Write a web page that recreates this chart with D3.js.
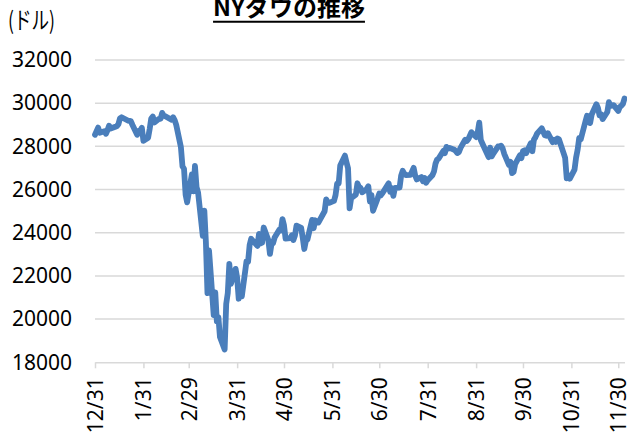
<!DOCTYPE html>
<html><head><meta charset="utf-8">
<script src="https://cdn.jsdelivr.net/npm/d3@7"></script>
<style>body{margin:0;background:#fff}svg{display:block}</style>
</head><body><svg id="c" width="627" height="432"></svg>
<script>
const dates = ["2019-12-31","2020-01-02","2020-01-03","2020-01-06","2020-01-07","2020-01-08","2020-01-09","2020-01-10","2020-01-13","2020-01-14","2020-01-15","2020-01-16","2020-01-17","2020-01-21","2020-01-22","2020-01-23","2020-01-24","2020-01-27","2020-01-28","2020-01-29","2020-01-30","2020-01-31",
"2020-02-03","2020-02-04","2020-02-05","2020-02-06","2020-02-07","2020-02-10","2020-02-11","2020-02-12","2020-02-13","2020-02-14","2020-02-18","2020-02-19","2020-02-20","2020-02-21","2020-02-24","2020-02-25","2020-02-26","2020-02-27","2020-02-28",
"2020-03-02","2020-03-03","2020-03-04","2020-03-05","2020-03-06","2020-03-09","2020-03-10","2020-03-11","2020-03-12","2020-03-13","2020-03-16","2020-03-17","2020-03-18","2020-03-19","2020-03-20","2020-03-23","2020-03-24","2020-03-25","2020-03-26","2020-03-27","2020-03-30","2020-03-31",
"2020-04-01","2020-04-02","2020-04-03","2020-04-06","2020-04-07","2020-04-08","2020-04-09","2020-04-13","2020-04-14","2020-04-15","2020-04-16","2020-04-17","2020-04-20","2020-04-21","2020-04-22","2020-04-23","2020-04-24","2020-04-27","2020-04-28","2020-04-29","2020-04-30",
"2020-05-01","2020-05-04","2020-05-05","2020-05-06","2020-05-07","2020-05-08","2020-05-11","2020-05-12","2020-05-13","2020-05-14","2020-05-15","2020-05-18","2020-05-19","2020-05-20","2020-05-21","2020-05-22","2020-05-26","2020-05-27","2020-05-28","2020-05-29",
"2020-06-01","2020-06-02","2020-06-03","2020-06-04","2020-06-05","2020-06-08","2020-06-09","2020-06-10","2020-06-11","2020-06-12","2020-06-15","2020-06-16","2020-06-17","2020-06-18","2020-06-19","2020-06-22","2020-06-23","2020-06-24","2020-06-25","2020-06-26","2020-06-29","2020-06-30",
"2020-07-01","2020-07-02","2020-07-06","2020-07-07","2020-07-08","2020-07-09","2020-07-10","2020-07-13","2020-07-14","2020-07-15","2020-07-16","2020-07-17","2020-07-20","2020-07-21","2020-07-22","2020-07-23","2020-07-24","2020-07-27","2020-07-28","2020-07-29","2020-07-30","2020-07-31",
"2020-08-03","2020-08-04","2020-08-05","2020-08-06","2020-08-07","2020-08-10","2020-08-11","2020-08-12","2020-08-13","2020-08-14","2020-08-17","2020-08-18","2020-08-19","2020-08-20","2020-08-21","2020-08-24","2020-08-25","2020-08-26","2020-08-27","2020-08-28","2020-08-31",
"2020-09-01","2020-09-02","2020-09-03","2020-09-04","2020-09-08","2020-09-09","2020-09-10","2020-09-11","2020-09-14","2020-09-15","2020-09-16","2020-09-17","2020-09-18","2020-09-21","2020-09-22","2020-09-23","2020-09-24","2020-09-25","2020-09-28","2020-09-29","2020-09-30",
"2020-10-01","2020-10-02","2020-10-05","2020-10-06","2020-10-07","2020-10-08","2020-10-09","2020-10-12","2020-10-13","2020-10-14","2020-10-15","2020-10-16","2020-10-19","2020-10-20","2020-10-21","2020-10-22","2020-10-23","2020-10-26","2020-10-27","2020-10-28","2020-10-29","2020-10-30",
"2020-11-02","2020-11-03","2020-11-04","2020-11-05","2020-11-06","2020-11-09","2020-11-10","2020-11-11","2020-11-12","2020-11-13","2020-11-16","2020-11-17","2020-11-18","2020-11-19","2020-11-20","2020-11-23","2020-11-24","2020-11-25","2020-11-27","2020-11-30",
"2020-12-01","2020-12-02","2020-12-03","2020-12-04"];
const closes = [28538,28868,28634,28703,28583,28745,28957,28824,28907,28940,29030,29297,29348,29196,29186,29160,28990,28535,28723,28734,28859,28256,
28399,28807,29290,29379,29103,29276,29276,29551,29424,29398,29232,29348,29219,28992,27961,27081,26957,25766,25409,
26703,25917,27091,26121,25865,23851,25018,23553,21200,23185,20189,21237,19899,20087,19174,18592,20704,21200,22552,21637,22327,21917,
20944,21413,21053,22680,22654,23434,23719,23390,23950,23504,23538,24242,23650,23019,23475,23516,23775,24134,24101,24634,24346,
23724,23750,23883,23664,23875,24331,24222,23765,23248,23625,23685,24597,24207,24576,24474,24465,24995,25548,25401,25383,
25475,25742,26270,26282,27111,27572,27272,26990,25128,25606,25763,26290,26120,26080,25871,26025,26156,25446,25746,25016,25596,25813,
25735,25827,26287,25890,26067,25706,26075,26086,26643,26870,26735,26672,26681,26840,27005,26652,26470,26584,26379,26540,26314,26428,
26664,26828,27201,27386,27433,27791,27687,27977,27897,27931,27845,27778,27692,27740,27930,28308,28249,28332,28492,28654,28430,
28646,29100,28292,28133,27501,27940,27535,27666,27993,27995,28032,27902,27657,27148,27288,26763,26815,27174,27584,27452,27782,
27817,27683,28149,27773,28303,28426,28587,28838,28680,28515,28494,28606,28195,28309,28211,28364,28336,27686,27463,26520,26660,26502,
26925,27481,27848,28391,28324,29158,29421,29398,29080,29480,29950,29784,29438,29483,29263,29591,30046,29873,29910,29639,
29824,29883,29970,30218];
const tickDates = ["2019-12-31","2020-01-31","2020-02-29","2020-03-31","2020-04-30","2020-05-31","2020-06-30","2020-07-31","2020-08-31","2020-09-30","2020-10-31","2020-11-30"];
const tickLabels = ["12/31","1/31","2/29","3/31","4/30","5/31","6/30","7/31","8/31","9/30","10/31","11/30"];
const yTicks = [18000,20000,22000,24000,26000,28000,30000,32000];
const titleText = "NYダウの推移";
const unitText = "(ドル)";

const parse = d3.utcParse("%Y-%m-%d");
const data = dates.map((d,i)=>({date:parse(d), value:closes[i]}));
const svg = d3.select("#c");
const x = d3.scaleUtc().domain([parse("2019-12-31"), parse("2020-12-04")]).range([95, 624.5]);
const y = d3.scaleLinear().domain([18000, 32000]).range([362.3, 60]);
const font = "'Noto Sans', 'Liberation Sans', sans-serif";

// gridlines
svg.append("g").selectAll("line").data(yTicks.filter(v=>v>18000)).join("line")
  .attr("x1", x.range()[0]).attr("x2", x.range()[1])
  .attr("y1", d=>y(d)).attr("y2", d=>y(d))
  .attr("stroke", "#d9d9d9").attr("stroke-width", 1.5);

// y axis labels
const ya = svg.append("g").attr("transform", `translate(${x.range()[0]},0)`)
  .call(d3.axisLeft(y).tickValues(yTicks).tickFormat(d3.format("d")).tickSize(0).tickPadding(23));
ya.select(".domain").remove();
ya.selectAll("text").attr("font-family", font).attr("font-size", 21).attr("fill", "#000");

// x axis
const xa = svg.append("g").attr("transform", `translate(0,${y(18000)})`)
  .call(d3.axisBottom(x).tickValues(tickDates.map(parse)).tickFormat((d,i)=>tickLabels[i]).tickSize(6).tickSizeOuter(0));
xa.select(".domain").attr("stroke", "#d9d9d9").attr("stroke-width", 1.5);
xa.selectAll(".tick line").attr("stroke", "#d9d9d9").attr("stroke-width", 1.5);
xa.selectAll("text").attr("font-family", font).attr("font-size", 21).attr("fill", "#000")
  .attr("transform", "rotate(-90)").attr("text-anchor", "end")
  .attr("x", -15).attr("y", 0).attr("dy", "0.36em");

// line
svg.append("path").datum(data)
  .attr("d", d3.line().x(d=>x(d.date)).y(d=>y(d.value)))
  .attr("fill", "none").attr("stroke", "#4a7ebb").attr("stroke-width", 5.8)
  .attr("stroke-linejoin", "round").attr("stroke-linecap", "round");

// title
const t = svg.append("text").attr("x", 289).attr("y", 15.5).attr("text-anchor", "middle")
  .attr("font-family", "'Noto Sans CJK JP', sans-serif").attr("font-weight", "bold").attr("font-size", 24)
  .attr("fill", "#000").text(titleText);
const tl = t.node().getComputedTextLength();
svg.append("line").attr("x1", 289 - tl/2).attr("x2", 289 + tl/2).attr("y1", 21.7).attr("y2", 21.7)
  .attr("stroke", "#000").attr("stroke-width", 2);

// unit
svg.append("text").attr("x", 8).attr("y", 29).attr("font-family", "'Noto Sans CJK JP', sans-serif")
  .attr("font-size", 24).attr("fill", "#000").attr("textLength", 47).attr("lengthAdjust", "spacingAndGlyphs")
  .text(unitText);
</script></body></html>
